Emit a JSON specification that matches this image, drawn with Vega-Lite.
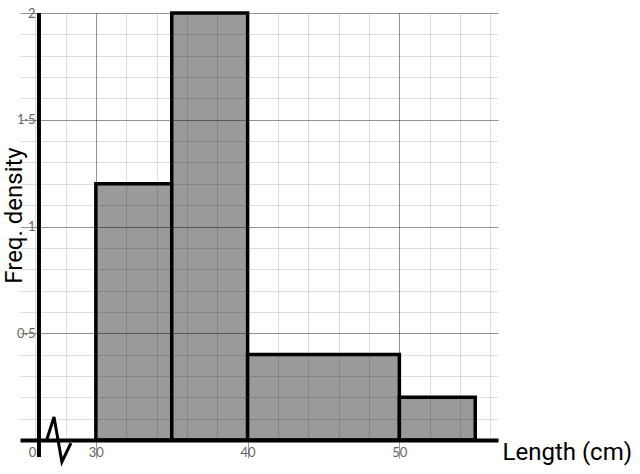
{
  "$schema": "https://vega.github.io/schema/vega-lite/v6.json",
  "width": 478,
  "height": 427,
  "autosize": {"type": "none"},
  "padding": {"left": 20, "top": 13, "right": 142, "bottom": 34},
  "background": "white",
  "config": {"view": {"stroke": null}, "font": "Lato"},
  "datasets": {
    "bars": [
      {"start": 30, "end": 35, "density": 1.2},
      {"start": 35, "end": 40, "density": 2.0},
      {"start": 40, "end": 50, "density": 0.4},
      {"start": 50, "end": 55, "density": 0.2}
    ],
    "zigzag": [
      {"x": 26.76, "y": 0},
      {"x": 27.24, "y": 0.108},
      {"x": 27.76, "y": -0.103},
      {"x": 28.36, "y": -0.014}
    ]
  },
  "layer": [
    {
      "data": {"name": "bars"},
      "mark": {"type": "rect", "fill": "#9a9a9a", "stroke": "black", "strokeWidth": 3.5},
      "encoding": {
        "x": {
          "field": "start", "type": "quantitative",
          "scale": {"domain": [25, 56.5], "nice": false, "zero": false},
          "axis": {
            "zindex": 1,
            "values": [25.8, 26, 28, 30, 32, 34, 36, 38, 40, 42, 44, 46, 48, 50, 52, 54, 56],
            "tickCount": 100,
            "labelExpr": "datum.value < 25.9 ? '0' : (datum.value % 10 === 0 ? format(datum.value, 'd') : '')",
            "labelOverlap": false,
            "labelFlush": false,
            "labelColor": "#666666",
            "labelFontSize": 13,
            "labelPadding": -12,
            "tickSize": 18,
            "tickWidth": 1,
            "tickColor": "#999999",
            "tickOpacity": {"condition": {"test": "datum.value % 10 === 0", "value": 1}, "value": 0},
            "domain": true,
            "domainColor": "black",
            "domainWidth": 4,
            "grid": true,
            "gridColor": {"condition": {"test": "datum.value % 10 === 0", "value": "rgba(0,0,0,0.42)"}, "value": "rgba(0,0,0,0.13)"},
            "gridOpacity": {"condition": {"test": "datum.value < 25.9", "value": 0}, "value": 1},
            "gridWidth": 1,
            "title": "Length (cm)",
            "titleFont": "Roboto",
            "titleX": 482,
            "titleY": 12,
            "titleAlign": "left",
            "titleAnchor": "start",
            "titleBaseline": "middle",
            "titleFontSize": 24,
            "titleFontWeight": "normal",
            "titleColor": "black"
          }
        },
        "x2": {"field": "end"},
        "y": {
          "field": "density", "type": "quantitative",
          "scale": {"domain": [0, 2], "nice": false},
          "axis": {
            "zindex": 1,
            "values": [0, 0.1, 0.2, 0.3, 0.4, 0.5, 0.6, 0.7, 0.8, 0.9, 1, 1.1, 1.2, 1.3, 1.4, 1.5, 1.6, 1.7, 1.8, 1.9, 2],
            "tickCount": 100,
            "labelExpr": "datum.value > 0.01 && abs(datum.value*2 - round(datum.value*2)) < 0.001 ? replace(format(datum.value, '~g'), '.', '·') : ''",
            "labelOverlap": false,
            "labelFlush": false,
            "labelColor": "#666666",
            "labelFontSize": 13,
            "labelPadding": -15,
            "ticks": false,
            "tickSize": 0,
            "domain": false,
            "grid": true,
            "gridColor": {"condition": {"test": "abs(datum.value*2 - round(datum.value*2)) < 0.001", "value": "rgba(0,0,0,0.42)"}, "value": "rgba(0,0,0,0.13)"},
            "gridWidth": 1,
            "title": "Freq. density",
            "titleFont": "Roboto",
            "titleX": -6,
            "titleY": 202,
            "titleAngle": -90,
            "titleAlign": "center",
            "titleBaseline": "middle",
            "titleFontSize": 24,
            "titleFontWeight": "normal",
            "titleColor": "black"
          }
        },
        "y2": {"datum": 0}
      }
    },
    {
      "data": {"values": [{}]},
      "mark": {"type": "rule", "color": "black", "strokeWidth": 4},
      "encoding": {
        "x": {"datum": 26.25, "type": "quantitative"},
        "y": {"datum": -0.08, "type": "quantitative"},
        "y2": {"datum": 2}
      }
    },
    {
      "data": {"name": "zigzag"},
      "mark": {"type": "line", "color": "black", "strokeWidth": 3, "clip": false},
      "encoding": {
        "x": {"field": "x", "type": "quantitative"},
        "y": {"field": "y", "type": "quantitative"}
      }
    }
  ]
}
